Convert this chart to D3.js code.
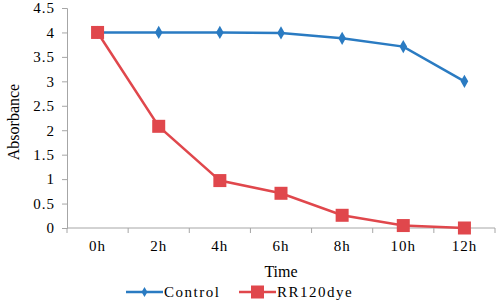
<!DOCTYPE html>
<html>
<head>
<meta charset="utf-8">
<script src="https://cdn.jsdelivr.net/npm/d3@7"></script>
<style>
  body { margin: 0; background: #fff; }
  svg { display: block; }
  svg text { font-family: 'Liberation Serif', 'DejaVu Serif', serif !important; }
</style>
</head>
<body>
<svg id="chart" width="498" height="301"></svg>
<script>
// ---- data ----
const times = ['0h', '2h', '4h', '6h', '8h', '10h', '12h']
const control = [4.0, 4.0, 4.0, 3.99, 3.88, 3.71, 3.0]
const rr120 = [4.0, 2.08, 0.97, 0.71, 0.26, 0.05, 0.0]
const yTicks = [0, 0.5, 1, 1.5, 2, 2.5, 3, 3.5, 4, 4.5]

const BLUE = '#2a7bc2'
const RED = '#e0474c'
const AXIS = '#a6a6a6'

const svg = d3.select('#chart')

const plotLeft = 67
const plotRight = 495
const plotTop = 8
const plotBottom = 228

const x = d3.scaleBand().domain(times).range([plotLeft, plotRight])
const y = d3.scaleLinear().domain([0, 4.5]).range([plotBottom, plotTop])

// y axis
const yAxis = svg.append('g')
  .attr('transform', `translate(${plotLeft},0)`)
  .call(d3.axisLeft(y).tickValues(yTicks).tickSize(5).tickPadding(7).tickFormat(d => String(d)))
yAxis.select('.domain').attr('stroke', AXIS)
yAxis.selectAll('.tick line').attr('stroke', AXIS)
yAxis.selectAll('text').style('font-size', '15px').style('letter-spacing', '1px').attr('fill', '#000')

// x axis: ticks at band edges
const xAxis = svg.append('g')
  .attr('transform', `translate(0,${plotBottom})`)
xAxis.append('line')
  .attr('x1', plotLeft).attr('x2', plotRight)
  .attr('stroke', AXIS)
const edges = times.map(t => x(t)).concat([plotRight])
xAxis.selectAll('.edge')
  .data(edges)
  .join('line')
  .attr('x1', d => d).attr('x2', d => d)
  .attr('y1', 0).attr('y2', 5)
  .attr('stroke', AXIS)
xAxis.selectAll('.lbl')
  .data(times)
  .join('text')
  .attr('x', d => x(d) + x.bandwidth() / 2)
  .attr('y', 23)
  .attr('text-anchor', 'middle')
  .style('font-size', '15px')
  .style('letter-spacing', '1px')
  .text(d => d)

// axis titles
svg.append('text')
  .attr('x', (plotLeft + plotRight) / 2)
  .attr('y', 277)
  .attr('text-anchor', 'middle')
  .style('font-size', '16px')
  .text('Time')

svg.append('text')
  .attr('transform', `translate(19, ${(plotTop + plotBottom) / 2 + 4}) rotate(-90)`)
  .attr('text-anchor', 'middle')
  .style('font-size', '16px')
  .text('Absorbance')

// lines
const cx = (d, i) => x(times[i]) + x.bandwidth() / 2
const line = d3.line().x(cx).y(d => y(d))

svg.append('path')
  .datum(control)
  .attr('fill', 'none')
  .attr('stroke', BLUE)
  .attr('stroke-width', 2.5)
  .attr('d', line)

svg.append('path')
  .datum(rr120)
  .attr('fill', 'none')
  .attr('stroke', RED)
  .attr('stroke-width', 2.5)
  .attr('d', line)

const diamond = d3.symbol().type(d3.symbolDiamond).size(50)

svg.selectAll('.ctl')
  .data(control)
  .join('path')
  .attr('d', diamond)
  .attr('transform', (d, i) => `translate(${cx(d, i)},${y(d)})`)
  .attr('fill', BLUE)

svg.selectAll('.rr')
  .data(rr120)
  .join('rect')
  .attr('x', (d, i) => cx(d, i) - 6.5)
  .attr('y', d => y(d) - 6.5)
  .attr('width', 13)
  .attr('height', 13)
  .attr('fill', RED)

// legend
const legend = svg.append('g').attr('transform', 'translate(0,292)')
legend.append('line').attr('x1', 126).attr('x2', 163).attr('stroke', BLUE).attr('stroke-width', 2.5)
legend.append('path').attr('d', d3.symbol().type(d3.symbolDiamond).size(30)).attr('transform', 'translate(144.5,0)').attr('fill', BLUE)
legend.append('text').attr('x', 164).attr('y', 5).style('font-size', '15px').style('letter-spacing', '1.5px').text('Control')

legend.append('line').attr('x1', 239).attr('x2', 276).attr('stroke', RED).attr('stroke-width', 2.5)
legend.append('rect').attr('x', 251).attr('y', -6.5).attr('width', 13).attr('height', 13).attr('fill', RED)
legend.append('text').attr('x', 277).attr('y', 5).style('font-size', '15px').style('letter-spacing', '1.5px').text('RR120dye')
</script>
</body>
</html>
